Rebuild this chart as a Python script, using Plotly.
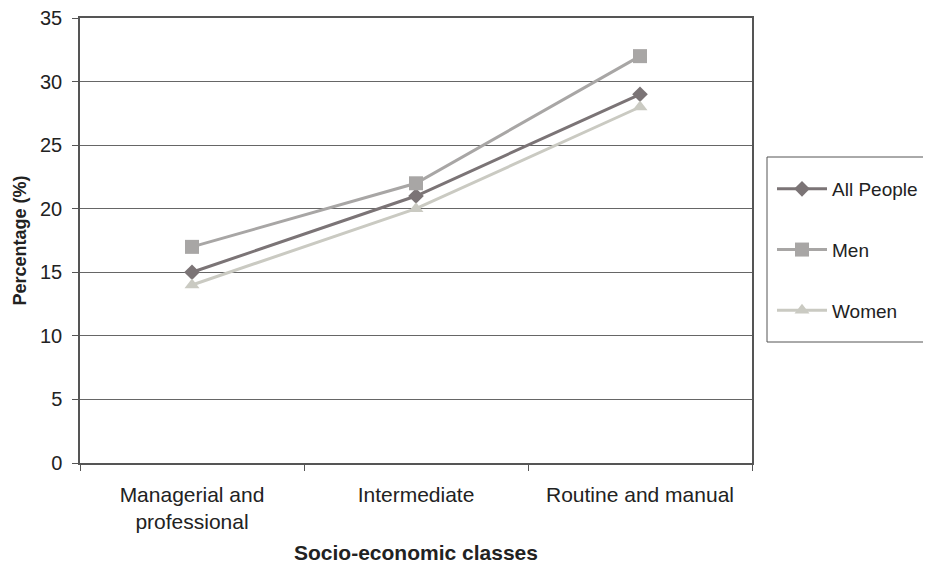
import plotly.graph_objects as go

categories = ["Managerial and<br>professional", "Intermediate", "Routine and manual"]
all_people = [15, 21, 29]
men = [17, 22, 32]
women = [14, 20, 28]
y_ticks = [0, 5, 10, 15, 20, 25, 30, 35]

FONT = "Liberation Sans, Arial, sans-serif"

# page has an 8px body margin; work in figure coordinates
OFF = 8
W, H = 931 - OFF, 564 - OFF
L, R, T, B = 80 - OFF, 752 - OFF, 18 - OFF, 463 - OFF

fig = go.Figure()
fig.add_trace(go.Scatter(x=categories, y=all_people, name="All People", mode="lines+markers",
                         line=dict(color="#7b7476", width=3),
                         marker=dict(symbol="diamond", size=12, color="#7b7476"),
                         legendgroup="a"))
fig.add_trace(go.Scatter(x=categories, y=men, name="Men", mode="lines+markers",
                         line=dict(color="#a8a6a5", width=3),
                         marker=dict(symbol="square", size=14, color="#a8a6a5"),
                         legendgroup="b"))
fig.add_trace(go.Scatter(x=categories, y=women, name="Women", mode="lines+markers",
                         line=dict(color="#cacac2", width=3),
                         marker=dict(symbol="triangle-up", size=13, color="#cacac2"),
                         legendgroup="c"))

pw, ph = R - L, B - T
def px(x):
    return (x - OFF - L) / pw
def py(y):
    return (B - (y - OFF)) / ph

fig.update_layout(
    width=W, height=H,
    margin=dict(l=L, r=W - R, t=T, b=H - B, autoexpand=False),
    paper_bgcolor="white", plot_bgcolor="white",
    font=dict(family=FONT, size=20, color="#222222"),
    showlegend=True,
    legend=dict(x=px(772), y=py(170), xanchor="left", yanchor="top",
                borderwidth=0, bgcolor="rgba(0,0,0,0)",
                tracegroupgap=33, font=dict(size=19, color="#222222"),
                itemwidth=50),
    xaxis=dict(showgrid=False, showline=True, linecolor="#555555", linewidth=1.5,
               range=[-0.5, 2.5], automargin=False, mirror=True,
               ticks="outside", tickson="boundaries", ticklen=6, tickcolor="#555555",
               ticklabelstandoff=12,
               tickfont=dict(size=21),
               title=dict(text="<b>Socio-economic classes</b>", font=dict(size=21), standoff=20)),
    yaxis=dict(range=[0, 35], tickvals=y_ticks,
               showgrid=True, gridcolor="#666666", gridwidth=1,
               showline=True, linecolor="#555555", linewidth=1.5, ticks="outside", ticklen=6,
               tickcolor="#555555", zeroline=False, automargin=False, mirror=True,
               ticklabelstandoff=6, ticklabeloverflow="allow",
               tickfont=dict(size=20),
               title=dict(text="<b>Percentage (%)</b>", font=dict(size=18), standoff=9)),
)
fig.add_shape(type="rect", xref="paper", yref="paper",
              x0=px(767), x1=px(928), y0=py(342), y1=py(157),
              line=dict(color="#555555", width=1), fillcolor="rgba(0,0,0,0)")

fig.write_html("out.html")
